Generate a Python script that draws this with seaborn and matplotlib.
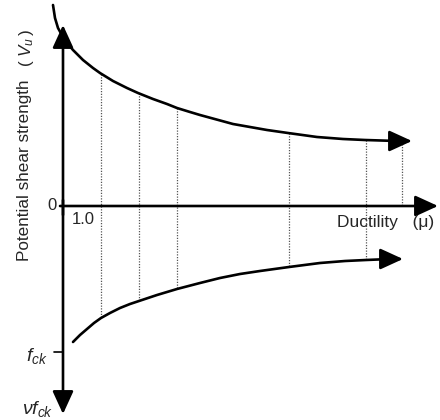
import numpy as np
import pandas as pd
import matplotlib
matplotlib.use("Agg")
import matplotlib.pyplot as plt
import seaborn as sns

sns.set_theme(style="white")
plt.rcParams["font.family"] = ["Liberation Sans", "DejaVu Sans"]
plt.rcParams["mathtext.fontset"] = "custom"
plt.rcParams["mathtext.rm"] = "Liberation Sans"
plt.rcParams["mathtext.it"] = "Liberation Sans:italic"

# Schematic curves in drawing units (x to the right, y downward)
upper_x = [53, 55, 58, 63, 68, 73, 83, 93, 100, 113, 127, 138, 153, 167, 177,
           190, 200, 233, 267, 288, 317, 343, 365, 397]
upper_y = [5, 18, 28, 37, 44, 50, 60, 68, 73, 81, 88, 93, 99, 104, 108,
           112, 115, 124, 130, 133, 137, 139, 140, 141]
lower_x = [73, 80, 87, 94, 101, 110, 120, 130, 139, 157, 177, 200, 220, 240,
           260, 289, 320, 345, 366, 390]
lower_y = [342, 335, 329, 323, 318, 313, 308, 304, 301, 295, 289, 283, 278, 274,
           271, 267, 263, 261, 260, 259]

# Ductility levels marked by dotted guides
guide_x = [101, 139, 177, 289, 366, 402]

axis_x0 = 63
axis_y0 = 206
fck_y = 352

upper = pd.DataFrame({"x": upper_x, "y": upper_y})
lower = pd.DataFrame({"x": lower_x, "y": lower_y})

fig = plt.figure(figsize=(4.4, 4.2), dpi=100)
ax = fig.add_axes([0, 0, 1, 1])
ax.set_xlim(0, 440)
ax.set_ylim(420, 0)
ax.axis("off")

# dotted guides between the two curves
for gx in guide_x:
    top = np.interp(gx, upper_x, upper_y)
    if gx <= lower_x[-1]:
        bot = np.interp(gx, lower_x, lower_y)
    else:
        bot = axis_y0
    ax.plot([gx, gx], [top, bot], color="#555555", lw=0.9, ls=(0, (1, 1.2)))

line_kw = dict(sort=False, color="black", lw=1.9, ax=ax,
               solid_joinstyle="round", solid_capstyle="round")
sns.lineplot(data=upper, x="x", y="y", **line_kw)
sns.lineplot(data=lower, x="x", y="y", **line_kw)

arrow = dict(arrowstyle="-|>,head_length=0.7,head_width=0.32", color="black",
             lw=1.9, mutation_scale=20, shrinkA=0, shrinkB=0)
# curve arrow tips
ax.annotate("", xy=(412, upper_y[-1]), xytext=(upper_x[-1], upper_y[-1]), arrowprops=arrow)
ax.annotate("", xy=(403, lower_y[-1]), xytext=(lower_x[-1], lower_y[-1]), arrowprops=arrow)

# axes
ax.annotate("", xy=(438, axis_y0), xytext=(axis_x0 - 3, axis_y0), arrowprops=arrow)
ax.annotate("", xy=(axis_x0, 25), xytext=(axis_x0, 215), arrowprops=arrow)
ax.annotate("", xy=(axis_x0, 414), xytext=(axis_x0, 200), arrowprops=arrow)
ax.plot([54, axis_x0], [fck_y, fck_y], color="black", lw=1.2)

# labels
ax.text(52, axis_y0, "0", ha="center", va="center", fontsize=12)
ax.text(72, 220, "1.0", ha="left", va="center", fontsize=12)
ax.text(434, 222, "Ductility   (μ)", ha="right", va="center", fontsize=12.5)
ax.text(25, 170, "Potential shear strength", rotation=90, ha="center", va="center", fontsize=12.3)
ax.text(26, 48, r"$(\ V_u\,)$", rotation=90, ha="center", va="center", fontsize=12.3)
ax.text(37, 356, r"$f_{ck}$", ha="center", va="center", fontsize=14)
ax.text(38, 409, r"$\nu f_{ck}$", ha="center", va="center", fontsize=14)

fig.savefig("out.png", dpi=100)
